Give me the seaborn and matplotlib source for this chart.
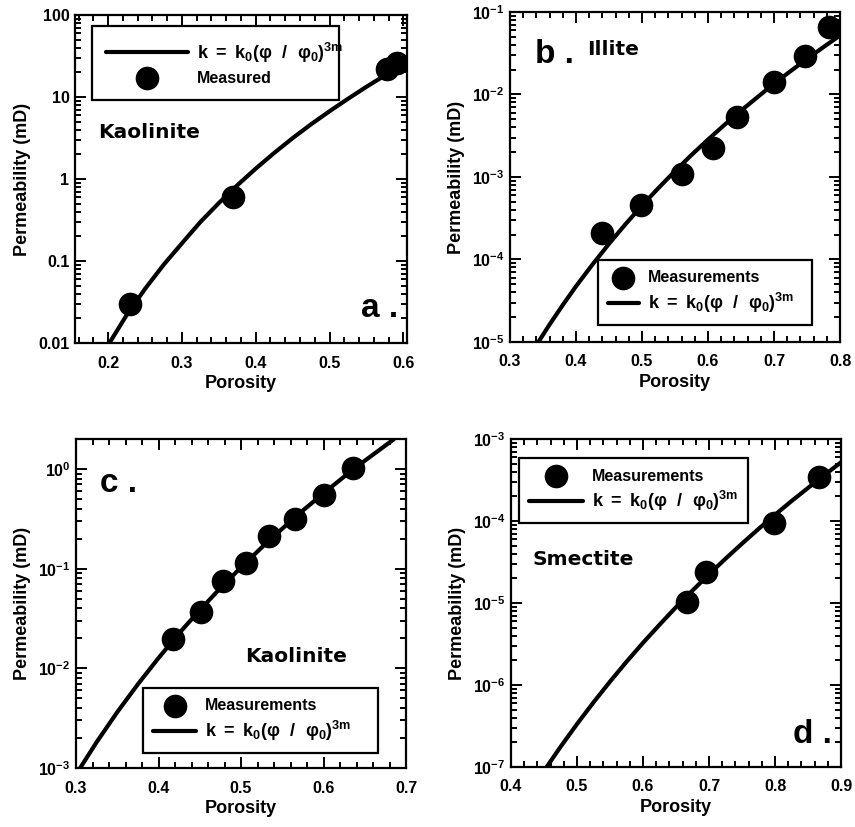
import matplotlib
matplotlib.use("Agg")
import matplotlib.pyplot as plt
import matplotlib.ticker as mticker
import seaborn as sns

# Datos leidos de la figura
# a. Kaolinite
phi_a_meas = [0.230, 0.369, 0.578, 0.591]
k_a_meas = [0.030, 0.60, 22.0, 26.0]
phi_a_fit = [0.2015, 0.225, 0.25, 0.275, 0.30, 0.325, 0.35, 0.375, 0.40, 0.425,
             0.45, 0.475, 0.50, 0.525, 0.55, 0.575, 0.605]
k_a_fit = [0.01, 0.022, 0.046, 0.09, 0.165, 0.30, 0.51, 0.84, 1.34, 2.08,
           3.15, 4.65, 6.7, 9.5, 13.3, 18.3, 26.0]

# b. Illite
phi_b_meas = [0.440, 0.498, 0.560, 0.608, 0.644, 0.700, 0.747, 0.783]
k_b_meas = [2.1e-4, 4.6e-4, 1.1e-3, 2.25e-3, 5.4e-3, 1.4e-2, 2.9e-2, 6.6e-2]
phi_b_fit = [0.343, 0.36, 0.38, 0.40, 0.425, 0.45, 0.475, 0.50, 0.525, 0.55,
             0.575, 0.60, 0.625, 0.65, 0.675, 0.70, 0.725, 0.75, 0.775, 0.80]
k_b_fit = [1e-5, 1.63e-5, 2.81e-5, 4.73e-5, 8.7e-5, 1.55e-4, 2.68e-4, 4.5e-4, 7.36e-4, 1.18e-3,
           1.85e-3, 2.84e-3, 4.29e-3, 6.37e-3, 9.3e-3, 1.35e-2, 1.92e-2, 2.7e-2, 3.76e-2, 5.2e-2]

# c. Kaolinite
phi_c_meas = [0.418, 0.452, 0.478, 0.506, 0.534, 0.565, 0.600, 0.636]
k_c_meas = [0.0197, 0.0365, 0.076, 0.114, 0.211, 0.315, 0.545, 1.02]
phi_c_fit = [0.305, 0.325, 0.35, 0.375, 0.40, 0.425, 0.45, 0.475, 0.50, 0.525,
             0.55, 0.575, 0.60, 0.625, 0.65, 0.685]
k_c_fit = [1e-3, 1.82e-3, 3.64e-3, 6.93e-3, 1.27e-2, 2.25e-2, 3.84e-2, 6.38e-2, 0.103, 0.163,
           0.252, 0.383, 0.571, 0.838, 1.21, 1.98]

# d. Smectite
phi_d_meas = [0.666, 0.695, 0.799, 0.867]
k_d_meas = [1.02e-5, 2.37e-5, 9.4e-5, 3.4e-4]
phi_d_fit = [0.454, 0.475, 0.50, 0.525, 0.55, 0.575, 0.60, 0.625, 0.65, 0.675,
             0.70, 0.725, 0.75, 0.775, 0.80, 0.825, 0.85, 0.875, 0.90]
k_d_fit = [1e-7, 1.76e-7, 3.34e-7, 6.15e-7, 1.1e-6, 1.92e-6, 3.27e-6, 5.43e-6, 8.9e-6, 1.42e-5,
           2.24e-5, 3.47e-5, 5.3e-5, 8.0e-5, 1.19e-4, 1.75e-4, 2.53e-4, 3.64e-4, 5.2e-4]

formula = r"$k\ =\ k_0(φ\ \ /\ \ φ_0)^{3m}$"

# Estilo
sns.set_style("ticks")
plt.rcParams["font.family"] = ["Liberation Sans", "DejaVu Sans"]
plt.rcParams["font.weight"] = "bold"
plt.rcParams["axes.labelweight"] = "bold"
plt.rcParams["mathtext.fontset"] = "custom"
plt.rcParams["mathtext.rm"] = "Liberation Sans:bold"
plt.rcParams["mathtext.it"] = "Liberation Sans:bold"
plt.rcParams["mathtext.bf"] = "Liberation Sans:bold"
plt.rcParams["axes.linewidth"] = 1.6
plt.rcParams["axes.edgecolor"] = "black"
for key in ["text.color", "axes.labelcolor", "xtick.color", "ytick.color"]:
    plt.rcParams[key] = "black"

fig = plt.figure(figsize=(8.55, 8.27), dpi=100)
ax_a = fig.add_axes([0.0877, 0.585, 0.3883, 0.397])
ax_b = fig.add_axes([0.5965, 0.5865, 0.386, 0.399])
ax_c = fig.add_axes([0.0889, 0.0713, 0.386, 0.3979])
ax_d = fig.add_axes([0.5977, 0.0726, 0.386, 0.3966])

MS = 290  # tamaño marcador
LW = 3.0


def draw(ax, phi_m, k_m, phi_f, k_f, meas_label, line_first):
    if line_first:
        sns.lineplot(x=phi_f, y=k_f, ax=ax, color="black", lw=LW, label=formula,
                     sort=False, estimator=None)
        sns.scatterplot(x=phi_m, y=k_m, ax=ax, color="black", s=MS, label=meas_label,
                        edgecolor="black", linewidth=0, zorder=3)
    else:
        sns.scatterplot(x=phi_m, y=k_m, ax=ax, color="black", s=MS, label=meas_label,
                        edgecolor="black", linewidth=0, zorder=3)
        sns.lineplot(x=phi_f, y=k_f, ax=ax, color="black", lw=LW, label=formula,
                     sort=False, estimator=None)
    ax.set_yscale("log")
    ax.set_xlabel("Porosity", fontsize=13, labelpad=3)
    ax.set_ylabel("Permeability (mD)", fontsize=13, labelpad=5)
    ax.xaxis.set_major_locator(mticker.MultipleLocator(0.1))
    ax.xaxis.set_minor_locator(mticker.MultipleLocator(0.02))
    ax.xaxis.set_major_formatter(mticker.FormatStrFormatter("%.1f"))
    ax.yaxis.set_minor_locator(mticker.LogLocator(subs=range(2, 10)))
    ax.yaxis.set_minor_formatter(mticker.NullFormatter())
    ax.tick_params(which="both", direction="in", top=True, right=True, width=1.4,
                   labelsize=11.5)
    ax.tick_params(axis="x", pad=9)
    ax.tick_params(axis="y", pad=4)
    ax.tick_params(which="major", length=8)
    ax.tick_params(which="minor", length=4)


def leggy(ax, bbox, loc, hlen, bpad):
    h, l = ax.get_legend_handles_labels()
    leg = ax.legend(h, l, loc=loc, bbox_to_anchor=bbox, mode="expand", borderaxespad=0,
                    handlelength=hlen, fontsize=13, fancybox=False, framealpha=1,
                    edgecolor="black", borderpad=bpad, labelspacing=0.3,
                    handletextpad=0.5)
    leg.get_frame().set_linewidth(1.6)
    for t in leg.get_texts():
        if t.get_text() != formula:
            t.set_fontsize(11.5)
    return leg


# a.
draw(ax_a, phi_a_meas, k_a_meas, phi_a_fit, k_a_fit, "Measured", True)
ax_a.set_xlim(0.155, 0.605)
ax_a.set_ylim(0.01, 100)
ax_a.yaxis.set_major_formatter(mticker.FuncFormatter(lambda v, p: f"{v:g}"))
leggy(ax_a, (0.051, 0.744, 0.744, 0.222), "upper left", 4.5, 0.8)
ax_a.text(0.069, 0.625, "Kaolinite", transform=ax_a.transAxes, fontsize=14.5,
          family="DejaVu Sans", weight="bold", va="baseline")
ax_a.text(0.973, 0.08, "a .", transform=ax_a.transAxes, fontsize=24, ha="right",
          weight="bold", va="baseline")

# b.
draw(ax_b, phi_b_meas, k_b_meas, phi_b_fit, k_b_fit, "Measurements", False)
ax_b.set_xlim(0.3, 0.8)
ax_b.set_ylim(1e-5, 1e-1)
leggy(ax_b, (0.267, 0.052, 0.648, 0.208), "lower left", 1.7, 0.55)
ax_b.text(0.076, 0.845, "b .", transform=ax_b.transAxes, fontsize=24,
          weight="bold", va="baseline")
ax_b.text(0.233, 0.87, "Illite", transform=ax_b.transAxes, fontsize=14.5,
          family="DejaVu Sans", weight="bold", va="baseline")

# c.
draw(ax_c, phi_c_meas, k_c_meas, phi_c_fit, k_c_fit, "Measurements", False)
ax_c.set_xlim(0.3, 0.7)
ax_c.set_ylim(1e-3, 2)
leggy(ax_c, (0.203, 0.046, 0.712, 0.206), "lower left", 2.4, 0.55)
ax_c.text(0.073, 0.84, "c .", transform=ax_c.transAxes, fontsize=24,
          weight="bold", va="baseline")
ax_c.text(0.512, 0.322, "Kaolinite", transform=ax_c.transAxes, fontsize=14.5,
          family="DejaVu Sans", weight="bold", va="baseline")

# d.
draw(ax_d, phi_d_meas, k_d_meas, phi_d_fit, k_d_fit, "Measurements", False)
ax_d.set_xlim(0.4, 0.9)
ax_d.set_ylim(1e-7, 1e-3)
leggy(ax_d, (0.024, 0.729, 0.694, 0.213), "upper left", 3.0, 0.55)
ax_d.text(0.064, 0.616, "Smectite", transform=ax_d.transAxes, fontsize=14.5,
          family="DejaVu Sans", weight="bold", va="baseline")
ax_d.text(0.973, 0.073, "d .", transform=ax_d.transAxes, fontsize=24, ha="right",
          weight="bold", va="baseline")

fig.savefig("out.png", dpi=100)
